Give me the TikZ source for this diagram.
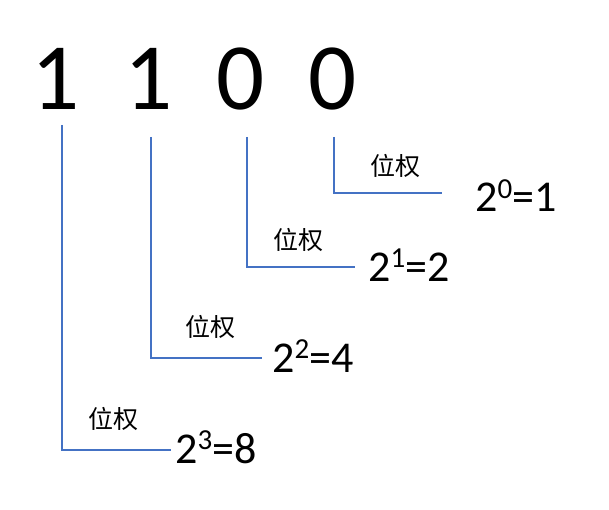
\documentclass[tikz,border=0pt]{standalone}
\usepackage{fontspec}
\setmainfont{Carlito}[FakeBold=-0.6]
\newfontfamily\cjk{Noto Sans CJK SC}
\definecolor{lineblue}{HTML}{4472C4}
\newcommand{\pwlabel}[3]{#1\raisebox{0.3em}{\fontsize{29}{29}\selectfont #2}=#3}
\begin{document}
\begin{tikzpicture}[x=1pt,y=-1pt,
  digit/.style={font=\fontsize{95}{95}\selectfont, inner sep=0pt, anchor=base},
  weight/.style={font=\cjk\fontsize{25}{25}\selectfont, inner sep=0pt},
  powlabel/.style={font=\fontsize{44}{44}\selectfont, inner sep=0pt, anchor=base west},
  conn/.style={draw=lineblue, line width=1.6pt}]
\useasboundingbox (0,0) rectangle (609,510);
% digits
\node[digit] (d1) at (56,110) {1};
\node[digit] (d2) at (149,110) {1};
\node[digit] (d3) at (241,110) {0};
\node[digit] (d4) at (333,110) {0};
% weight labels
\node[weight] (w4) at (395,166) {位权};
\node[weight] (w3) at (298,240) {位权};
\node[weight] (w2) at (210,327) {位权};
\node[weight] (w1) at (113,419) {位权};
% power labels
\node[powlabel] (p4) at (475,212) {\pwlabel{2}{0}{1}};
\node[powlabel] (p3) at (368,281) {\pwlabel{2}{1}{2}};
\node[powlabel] (p2) at (272,372) {\pwlabel{2}{2}{4}};
\node[powlabel] (p1) at (175,463) {\pwlabel{2}{3}{8}};
% connector points
\coordinate (s1) at (62,125);  \coordinate (e1) at (171,450);
\coordinate (s2) at (151,137); \coordinate (e2) at (262,358);
\coordinate (s3) at (247,137); \coordinate (e3) at (355,267);
\coordinate (s4) at (334,137); \coordinate (e4) at (442,193);
\draw[conn] (s1) |- (e1);
\draw[conn] (s2) |- (e2);
\draw[conn] (s3) |- (e3);
\draw[conn] (s4) |- (e4);
\end{tikzpicture}
\end{document}
